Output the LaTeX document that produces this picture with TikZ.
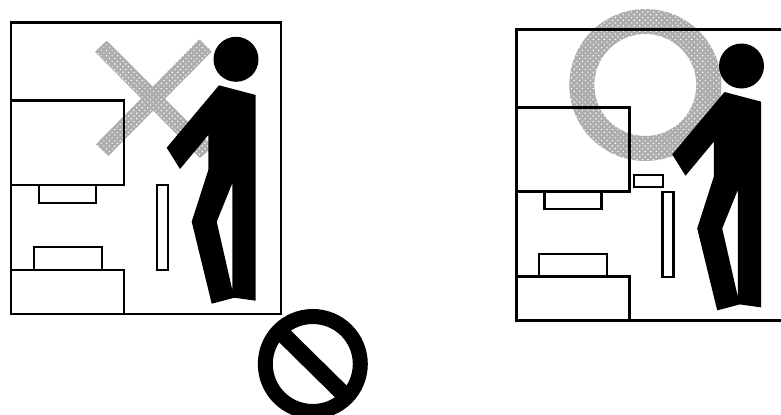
\documentclass[tikz,border=0pt]{standalone}
\usetikzlibrary{patterns.meta}
\tikzset{
  hatch/.style={fill=black!32, postaction={pattern={Dots[radius=0.62pt,distance=2.9pt,angle=45]}, pattern color=white}},
  frameline/.style={line width=1.9pt, draw=black, line join=miter},
  partline/.style={line width=1.6pt, draw=black, line join=miter},
  figure/.style={fill=black, even odd rule},
  room/.pic={
    \draw[frameline] (11,22.7) rectangle (281,314);
    \draw[frameline] (11,100.7) -- (124,100.7) -- (124,185) -- (11,185);
    \draw[partline] (39,185) -- (39,202.7) -- (96,202.7) -- (96,185);
    \draw[frameline] (11,270) -- (124,270) -- (124,314);
    \draw[partline] (33.7,270) -- (33.7,247) -- (101.7,247) -- (101.7,270);
    \draw[partline] (157,185) rectangle (168,270);
    \fill[black] (236,59.3) circle (22.5);
    \fill[figure] (219,85.3) -- (255.7,95) -- (255.7,300.7) -- (234.3,297.7) -- (211.7,303.7)
      -- (191.7,221.7) -- (208.3,170) -- (208.3,135) -- (180,169) -- (166.7,147.7) -- cycle
      (232.3,183.3) -- (216.7,221.7) -- (232.3,290) -- cycle;
  },
}

\begin{document}
\begin{tikzpicture}[x=0.75pt,y=-0.75pt]
\useasboundingbox (0,0) rectangle (781,414);
\clip (0,0) rectangle (781,414);
\path[hatch] (95,51.7) -- (106.7,40.7) -- (213,147) -- (200,158) -- cycle;
\path[hatch] (199.3,39.3) -- (211.7,51.7) -- (108.3,156) -- (96,144.3) -- cycle;
\path[hatch, even odd rule] (645.3,85) circle (76) (645.3,85) circle (51);
\pic at (0,0) {room};
\pic at (505.5,6.7) {room};
\draw[partline] (634.3,175) rectangle (663.3,187.3);
\draw[line width=11.25pt, draw=black] (312.8,364) circle (47.5);
\draw[line width=12.4pt, draw=black] (278.5,330) -- (347.5,398);
\end{tikzpicture}
\end{document}
